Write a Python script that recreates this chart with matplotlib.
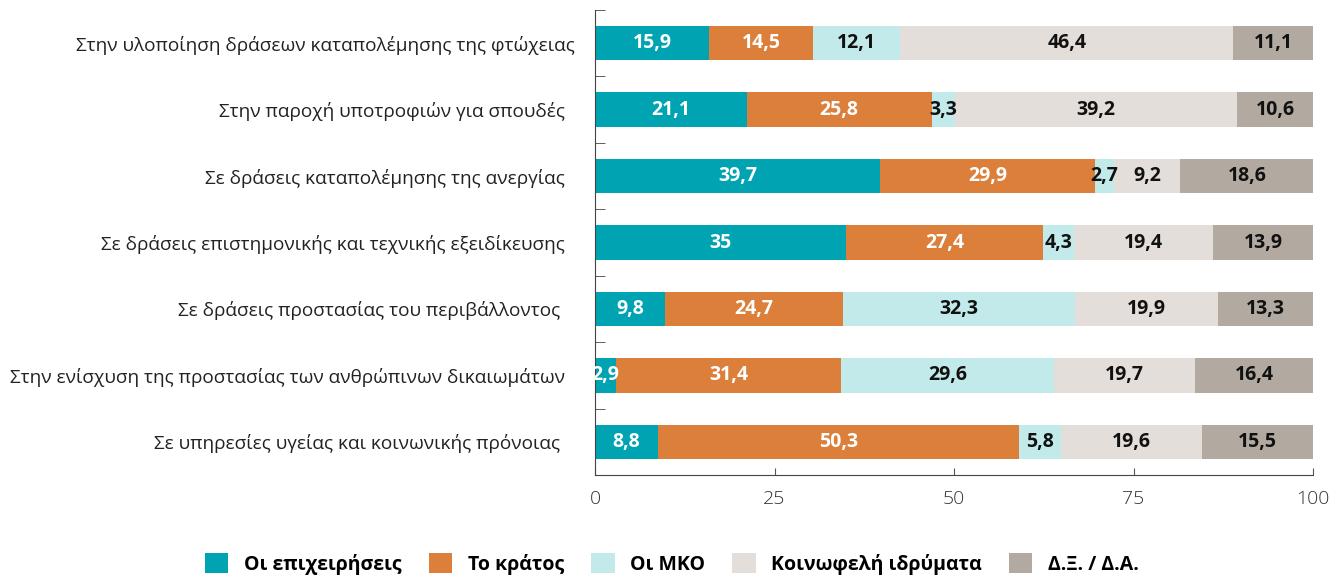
import numpy as np
import matplotlib.pyplot as plt
from matplotlib.ticker import FixedLocator

plt.rcParams['font.family'] = ['Open Sans', 'DejaVu Sans']

categories = ["Στην υλοποίηση δράσεων καταπολέμησης της φτώχειας",
              "Στην παροχή υποτροφιών για σπουδές  ",
              "Σε δράσεις καταπολέμησης της ανεργίας  ",
              "Σε δράσεις επιστημονικής και τεχνικής εξειδίκευσης  ",
              "Σε δράσεις προστασίας του περιβάλλοντος   ",
              "Στην ενίσχυση της προστασίας των ανθρώπινων δικαιωμάτων  ",
              "Σε υπηρεσίες υγείας και κοινωνικής πρόνοιας   "]

series_names = ["Οι επιχειρήσεις", "Το κράτος", "Οι ΜΚΟ", "Κοινωφελή ιδρύματα", "Δ.Ξ. / Δ.Α."]

businesses = [15.9, 21.1, 39.7, 35.0, 9.8, 2.9, 8.8]
state = [14.5, 25.8, 29.9, 27.4, 24.7, 31.4, 50.3]
ngos = [12.1, 3.3, 2.7, 4.3, 32.3, 29.6, 5.8]
foundations = [46.4, 39.2, 9.2, 19.4, 19.9, 19.7, 19.6]
dk_na = [11.1, 10.6, 18.6, 13.9, 13.3, 16.4, 15.5]

colors = ['#00A3B1', '#DB7F3A', '#C3EAEA', '#E3DEDA', '#B2AAA0']
text_colors = ['white', 'white', '#111111', '#111111', '#111111']

fig = plt.figure(figsize=(13.36, 5.75), dpi=100)
ax = fig.add_axes([0.4454, 0.1739, 0.5374, 0.8087])

y = np.arange(len(categories))
left = np.zeros(len(categories))
all_series = [businesses, state, ngos, foundations, dk_na]
for name, vals, col, tcol in zip(series_names, all_series, colors, text_colors):
    vals = np.array(vals)
    ax.barh(y, vals, left=left, height=0.52, color=col, label=name)
    for yi, l, v in zip(y, left, vals):
        txt = f"{v:g}".replace('.', ',')
        ax.text(l + v / 2, yi, txt, ha='center', va='center',
                color=tcol, fontsize=14, fontweight='bold')
    left += vals

ax.set_xlim(0, 100)
ax.set_ylim(6.5, -0.5)
ax.set_yticks(y)
ax.set_yticklabels(categories, fontsize=13.7, color='#222222')
ax.tick_params(axis='y', length=0, pad=14.5)
ax.yaxis.set_minor_locator(FixedLocator(np.arange(-0.5, 7, 1)))
ax.tick_params(axis='y', which='minor', direction='in', length=7, color='#444444')

ax.set_xticks([0, 25, 50, 75, 100])
ax.tick_params(axis='x', direction='in', length=5, color='#555555',
               labelsize=14, labelcolor='#333333', pad=11)
for lbl in ax.get_xticklabels():
    lbl.set_fontweight('light')

for s in ['top', 'right']:
    ax.spines[s].set_visible(False)
ax.spines['left'].set_color('#444444')
ax.spines['bottom'].set_color('#444444')

handles, labels = ax.get_legend_handles_labels()
leg = fig.legend(handles, labels, loc='lower center', ncol=5,
                 bbox_to_anchor=(0.503, -0.03), frameon=False,
                 handlelength=1.2, handleheight=1.2, columnspacing=1.4,
                 prop={'size': 14, 'weight': 'bold'})

fig.savefig('out.png', dpi=100)
